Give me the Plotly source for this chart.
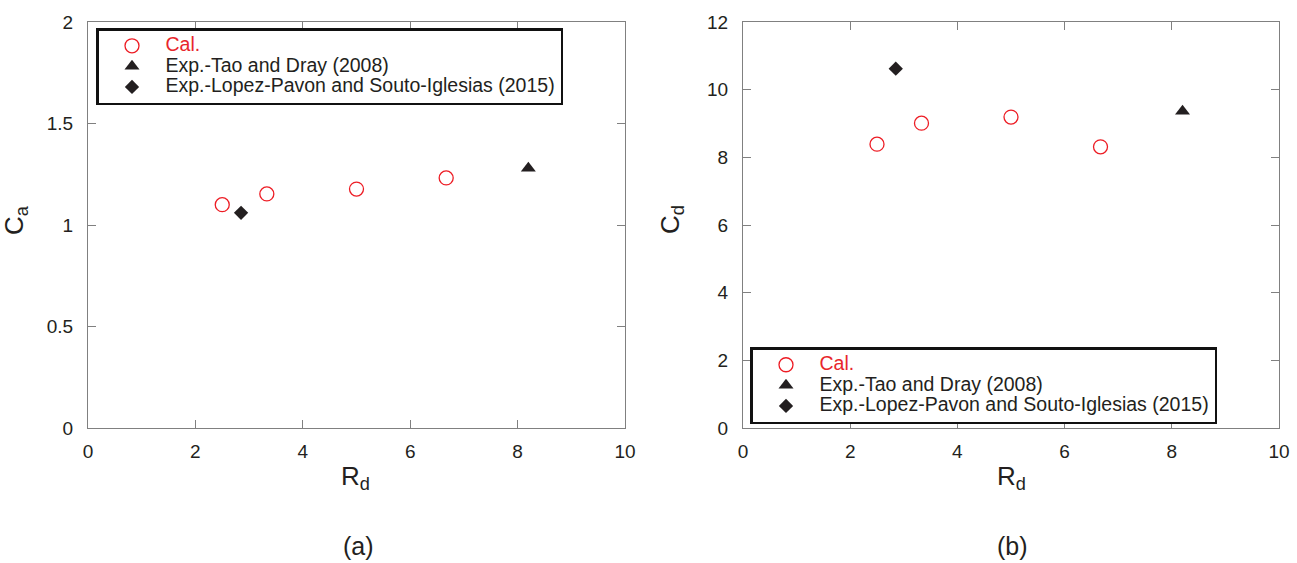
import plotly.graph_objects as go

# ---- data ----
cal_rd = [2.5, 3.33, 5.0, 6.67]
cal_ca = [1.10, 1.153, 1.177, 1.232]
cal_cd = [8.39, 9.01, 9.19, 8.31]

tao_rd = [8.2]
tao_ca = [1.28]
tao_cd = [9.36]

lp_rd = [2.85]
lp_ca = [1.06]
lp_cd = [10.62]

LEG_TXT = 19.5
names = ["<span style='color:#e8262c;font-size:%spx'>Cal.</span>" % LEG_TXT,
         "<span style='font-size:%spx'>Exp.-Tao and Dray (2008)</span>" % LEG_TXT,
         "<span style='font-size:%spx'>Exp.-Lopez-Pavon and Souto-Iglesias (2015)</span>" % LEG_TXT]

W, H = 1297, 563
FONT = "Liberation Sans, Arial, sans-serif"
TXT = "#231f20"
AX = "#808080"

def px_x(p):
    return p / W

def px_y(p):
    return 1 - p / H

fig = go.Figure()

def add_set(xa, ya, ycal, ytao, ylp, legend):
    fig.add_trace(go.Scatter(x=cal_rd, y=ycal, mode="markers", name=names[0],
                             marker=dict(symbol="circle-open", size=14, color="#ed1c24", line=dict(width=1.3)),
                             xaxis=xa, yaxis=ya, legend=legend))
    fig.add_trace(go.Scatter(x=tao_rd, y=ytao, mode="markers", name=names[1],
                             marker=dict(symbol="triangle-up", size=13, color=TXT),
                             xaxis=xa, yaxis=ya, legend=legend))
    fig.add_trace(go.Scatter(x=lp_rd, y=ylp, mode="markers", name=names[2],
                             marker=dict(symbol="diamond", size=11, color=TXT),
                             xaxis=xa, yaxis=ya, legend=legend))

add_set("x", "y", cal_ca, tao_ca, lp_ca, "legend")
add_set("x2", "y2", cal_cd, tao_cd, lp_cd, "legend2")

axcommon = dict(showgrid=False, zeroline=False, showline=True, linecolor=AX, linewidth=1.2,
                mirror="allticks", ticks="inside", ticklen=8, tickcolor=AX, tickwidth=1,
                tickfont=dict(family=FONT, size=19, color=TXT), automargin=False)
xcommon = dict(range=[0, 10], tickvals=[0, 2, 4, 6, 8, 10], ticklabelstandoff=6, **axcommon)
ycommon = dict(ticklabelstandoff=10, **axcommon)

ybot, ytop = px_y(428), px_y(22)

legcommon = dict(xanchor="left", yanchor="top", bordercolor="#111111", borderwidth=2.5,
                 bgcolor="white", font=dict(family=FONT, size=13.5, color=TXT),
                 itemwidth=57, tracegroupgap=0)

fig.update_layout(
    width=W, height=H, margin=dict(l=0, r=0, t=0, b=0),
    plot_bgcolor="white", paper_bgcolor="white",
    font=dict(family=FONT, color=TXT),
    xaxis=dict(domain=[px_x(88), px_x(625)], anchor="y", **xcommon),
    yaxis=dict(domain=[ybot, ytop], range=[0, 2], tickvals=[0, 0.5, 1, 1.5, 2], anchor="x", **ycommon),
    xaxis2=dict(domain=[px_x(743), px_x(1279)], anchor="y2", **xcommon),
    yaxis2=dict(domain=[ybot, ytop], range=[0, 12], tickvals=[0, 2, 4, 6, 8, 10, 12], anchor="x2", **ycommon),
    legend=dict(x=px_x(96), y=px_y(28), **legcommon),
    legend2=dict(x=px_x(750), y=px_y(347), **legcommon),
)

ann = []
def a(x, y, text, size, angle=0):
    ann.append(dict(x=px_x(x), y=px_y(y), xref="paper", yref="paper", text=text, showarrow=False,
                    font=dict(family=FONT, size=size, color=TXT), textangle=angle,
                    xanchor="center", yanchor="middle"))

a(355, 477, "R<sub>d</sub>", 26)
a(1011, 477, "R<sub>d</sub>", 26)
a(16, 220, "C<sub>a</sub>", 26, -90)
a(672, 220, "C<sub>d</sub>", 26, -90)
a(358, 546, "(a)", 25)
a(1012, 546, "(b)", 25)
fig.update_layout(annotations=ann)

fig.write_html("out.html", config={"displayModeBar": False},
               post_script="document.body.style.margin='0';document.body.style.overflow='hidden';")
